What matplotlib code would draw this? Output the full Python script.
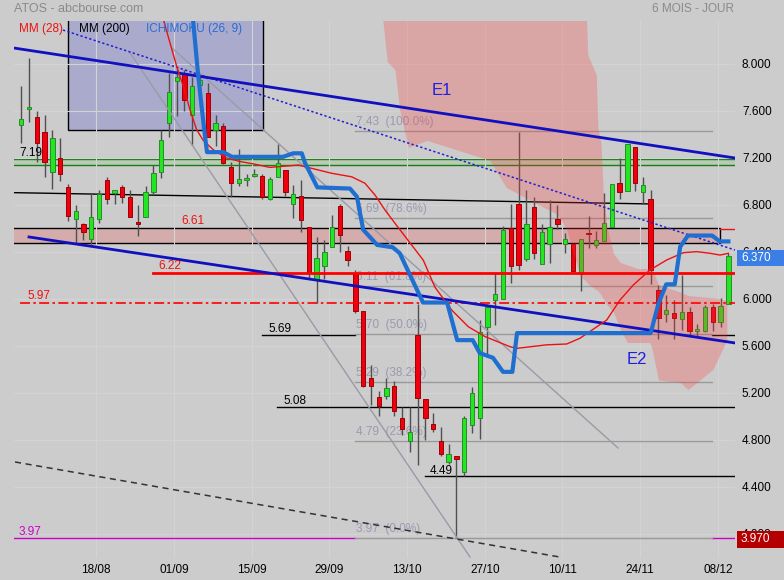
import matplotlib
matplotlib.use('Agg')
import matplotlib.pyplot as plt
from matplotlib.patches import Rectangle
import numpy as np

plt.rcParams['font.family'] = ['Liberation Sans', 'DejaVu Sans']

# ---------------- data ----------------
opens = [7.48, 7.615, 7.546, 7.42, 7.08, 7.197, 6.95, 6.68, 6.636, 6.51,
         6.68, 7.01, 6.90, 6.95, 6.87, 6.655, 6.70, 6.91, 7.08, 7.495,
         7.858, 7.92, 7.57, 7.82, 7.75, 7.44, 7.47, 7.12, 6.985, 7.01,
         7.045, 7.05, 6.85, 7.04, 7.10, 6.81, 6.88, 6.61, 6.17, 6.28,
         6.445, 6.79, 6.41, 6.21, 5.90, 5.33, 5.17, 5.175, 5.26, 4.99,
         4.79, 5.69, 5.145, 4.94, 4.79, 4.61, 4.66, 4.53, 4.93, 4.99,
         5.76, 5.99, 6.00, 6.60, 6.81, 6.34, 6.78, 6.295, 6.47, 6.68,
         6.47, 6.47, 6.21, 6.56, 6.46, 6.49, 6.615, 6.99, 6.92, 7.29,
         6.91, 6.85, 6.08, 5.87, 5.88, 5.83, 5.89, 5.73, 5.73, 5.93,
         5.80, 5.96]
highs = [7.81, 8.05, 7.60, 7.57, 7.44, 7.37, 6.98, 6.80, 6.65, 6.90,
         6.93, 7.04, 6.93, 6.97, 6.93, 6.80, 6.96, 7.14, 7.44, 7.92,
         7.96, 7.95, 7.89, 7.90, 7.84, 7.57, 7.50, 7.17, 7.28, 7.06,
         7.11, 7.06, 7.04, 7.32, 7.10, 6.97, 7.01, 6.61, 6.53, 6.50,
         6.715, 6.81, 6.45, 6.25, 5.90, 5.44, 5.22, 5.33, 5.30, 5.08,
         5.08, 5.96, 5.145, 5.03, 4.91, 4.77, 4.66, 5.00, 5.25, 5.82,
         5.96, 6.22, 6.62, 6.81, 7.42, 6.93, 6.87, 6.64, 6.84, 6.80,
         6.56, 6.47, 6.51, 6.71, 6.58, 6.90, 6.975, 7.20, 7.32, 7.29,
         7.04, 6.93, 6.12, 6.03, 5.99, 6.20, 5.93, 5.79, 5.95, 5.96,
         6.01, 6.39]
lows = [7.33, 7.51, 7.17, 7.04, 6.94, 7.00, 6.66, 6.48, 6.50, 6.47,
        6.65, 6.81, 6.81, 6.82, 6.70, 6.54, 6.70, 6.89, 7.03, 7.38,
        7.56, 7.60, 7.31, 7.78, 7.38, 7.30, 7.15, 6.87, 6.96, 6.96,
        7.04, 6.85, 6.84, 7.04, 6.88, 6.69, 6.57, 6.18, 5.97, 6.17,
        6.445, 6.40, 6.28, 5.88, 5.25, 5.10, 5.00, 5.15, 5.00, 4.84,
        4.70, 4.59, 4.80, 4.87, 4.66, 4.60, 3.97, 4.49, 4.86, 4.81,
        5.51, 5.78, 6.00, 6.14, 6.25, 6.32, 6.34, 6.295, 6.31, 6.60,
        6.39, 6.22, 6.07, 6.43, 6.43, 6.49, 6.615, 6.85, 6.92, 6.92,
        6.81, 6.13, 5.66, 5.80, 5.66, 5.74, 5.69, 5.685, 5.72, 5.73,
        5.76, 5.96]
closes = [7.53, 7.63, 7.325, 7.163, 7.37, 7.06, 6.71, 6.75, 6.573, 6.70,
          6.89, 6.85, 6.93, 6.87, 6.70, 6.64, 6.91, 7.07, 7.35, 7.76,
          7.887, 7.69, 7.81, 7.86, 7.38, 7.50, 7.16, 6.99, 7.02, 7.03,
          7.05, 6.87, 7.02, 7.16, 6.91, 6.89, 6.67, 6.22, 6.35, 6.40,
          6.61, 6.545, 6.33, 5.90, 5.26, 5.26, 5.09, 5.245, 5.05, 4.89,
          4.87, 5.155, 4.99, 4.89, 4.68, 4.68, 4.635, 4.99, 5.20, 5.72,
          5.93, 6.04, 6.59, 6.28, 6.29, 6.64, 6.39, 6.57, 6.61, 6.635,
          6.51, 6.24, 6.51, 6.55, 6.50, 6.65, 6.975, 6.91, 7.32, 6.99,
          6.97, 6.25, 5.84, 5.91, 5.84, 5.89, 5.73, 5.74, 5.93, 5.80,
          5.94, 6.37]

date_labels = ['18/08', '01/09', '15/09', '29/09', '13/10', '27/10', '10/11', '24/11', '08/12']
date_idx = [10, 20, 30, 40, 50, 60, 70, 80, 90]
price_ticks = [4.0, 4.4, 4.8, 5.2, 5.6, 6.0, 6.4, 6.8, 7.2, 7.6, 8.0]

mm28_idx = [18.2, 19.05, 20.0, 20.85, 21.71, 22.57, 23.42, 24.71, 26.43, 28.15,
            29.86, 32.0, 35.65, 39.95, 42.52, 44.23, 45.52, 46.81, 48.1, 51.74,
            53.24, 55.39, 57.53, 59.68, 62.9, 63.76, 67.62, 70.19, 71.9, 75.34,
            77.05, 78.76, 80.91, 83.06, 85.2, 86.92, 88.64, 89.92, 91.0]
mm28_val = [8.40, 8.20, 7.98, 7.81, 7.61, 7.44, 7.35, 7.27, 7.20, 7.17,
            7.15, 7.12, 7.14, 7.07, 7.04, 6.985, 6.885, 6.757, 6.644, 6.33,
            6.10, 5.906, 5.764, 5.68, 5.594, 5.58, 5.61, 5.617, 5.666, 5.821,
            5.991, 6.119, 6.247, 6.332, 6.394, 6.403, 6.389, 6.374, 6.389]

ichi_idx = [22.0, 22.74, 23.2, 23.65, 23.9, 26.0, 27.1, 33.7, 35.0, 36.1,
            36.5, 38.1, 42.3, 43.2, 44.0, 45.8, 47.8, 48.7, 51.7, 54.8,
            56.1, 58.1, 59.0, 60.7, 62.0, 63.2, 63.8, 81.0, 82.0, 83.0,
            84.1, 84.8, 85.8, 88.9, 89.9, 91.0]
ichi_val = [8.45, 7.92, 7.64, 7.38, 7.25, 7.25, 7.21, 7.21, 7.24, 7.24,
            7.16, 6.95, 6.94, 6.87, 6.59, 6.46, 6.44, 6.39, 5.97, 5.97,
            5.65, 5.65, 5.54, 5.50, 5.38, 5.38, 5.71, 5.71, 5.96, 6.125,
            6.125, 6.445, 6.54, 6.54, 6.49, 6.49]

cloud_idx = [46.4, 47.1, 48.1, 48.7, 49.8, 52.2, 60.3, 62.4, 65.5, 69.0,
             70.2, 71.9, 72.7, 72.9, 74.0, 74.2, 74.6, 74.9, 75.4, 76.2,
             77.1, 78.0, 79.3, 80.9, 81.2, 82.0, 84.8, 85.8, 89.0, 90.8]
cloud_top = [8.45, 8.45, 8.45, 8.45, 8.45, 8.45, 8.45, 8.45, 8.45, 8.45,
             8.45, 8.45, 8.45, 8.08, 7.91, 7.46, 7.33, 6.90, 6.61, 6.39,
             6.31, 6.29, 6.26, 6.26, 6.26, 6.12, 6.06, 6.03, 6.01, 5.99]
cloud_bot = [8.45, 8.02, 7.95, 7.61, 7.29, 7.35, 7.18, 6.95, 6.84, 6.72,
             6.59, 6.20, 6.15, 6.13, 6.08, 6.07, 6.04, 6.00, 5.95, 5.89,
             5.74, 5.63, 5.63, 5.63, 5.57, 5.31, 5.29, 5.23, 5.40, 5.65]

fib_levels = [7.43, 6.69, 6.11, 5.70, 5.29, 4.79, 3.97]
fib_pct = ['100.0%', '78.6%', '61.8%', '50.0%', '38.2%', '23.6%', '0.0%']

# trend lines (index, price) endpoints
e1_line = ([-0.94, 91.85], [8.136, 7.20])
e2_line = ([0.99, 91.85], [6.528, 5.626])
dotted_line = ([5.37, 91.85], [8.289, 6.417])
gray_line_a = ([14.0, 57.75], [8.094, 3.804])
gray_line_b = ([19.4, 76.8], [8.136, 4.732])
dashed_line = ([-0.81, 69.3], [4.613, 3.804])
mm200_line = ([-0.94, 80.9], [6.905, 6.809])

last_price = 6.37
low_price = 3.97

# ---------------- layout helpers ----------------
W, H = 784, 580
AX_L, AX_R, AX_T, AX_B = 14, 735, 21, 558
X0_PX, DX_PX = 21.3, 7.77
Y8_PX, PPU = 64.0, 117.5


def px_x(px):
    return (px - X0_PX) / DX_PX


def px_y(py):
    return 8 - (py - Y8_PX) / PPU


BG = '#cccccc'
fig = plt.figure(figsize=(W / 100, H / 100), dpi=100, facecolor=BG)
ax = fig.add_axes([AX_L / W, 1 - AX_B / H, (AX_R - AX_L) / W, (AX_B - AX_T) / H])
ax.set_facecolor(BG)
XL, XR = px_x(AX_L), px_x(AX_R)
ax.set_xlim(XL, XR)
ax.set_ylim(px_y(AX_B), px_y(AX_T))
for s in ax.spines.values():
    s.set_visible(False)


def ftext(px, py, s, **kw):
    kw.setdefault('va', 'center')
    kw.setdefault('fontsize', 8.5)
    fig.text(px / W, 1 - py / H, s, **kw)


# blue box
ax.add_patch(Rectangle((6.0, 7.44), 25.1, 1.2, facecolor='#aaaacc', edgecolor='black', lw=1.0, zorder=1))
# green band
ax.add_patch(Rectangle((XL - 1, 7.14), XR - XL + 2, 0.05, facecolor='#b8ccb4', edgecolor='#1a7a1a', lw=1.0, zorder=1))
# pink band
ax.add_patch(Rectangle((XL - 1, 6.48), px_x(720) - XL + 1, 0.12, facecolor='#d4acac', edgecolor='black', lw=1.0, zorder=1))
ax.plot([px_x(720), XR], [6.60, 6.60], color='#ee1111', lw=1, zorder=2)

# grid
for p in price_ticks:
    ax.axhline(p, color='#d3d3d3', lw=0.8, zorder=1.5)
for d in date_idx:
    ax.axvline(d - 0.35, color='#d3d3d3', lw=0.8, zorder=1.5)

# level lines
ax.plot([px_x(153), XR], [6.22, 6.22], color='#ff0000', lw=2, zorder=5)
ax.plot([px_x(20), XR], [5.97, 5.97], color='#ff0000', lw=1.2, dashes=[6, 2, 1.5, 2], zorder=5)
ax.plot([px_x(262), px_x(355)], [5.69, 5.69], color='black', lw=1, zorder=2)
ax.plot([px_x(712), XR], [5.69, 5.69], color='black', lw=1, zorder=2)
ax.plot([px_x(277), XR], [5.08, 5.08], color='black', lw=1, zorder=2)
ax.plot([px_x(425), XR], [4.49, 4.49], color='black', lw=1, zorder=2)
ax.plot([XL, px_x(355)], [3.965, 3.965], color='#cc00cc', lw=1, zorder=2)
ax.plot([px_x(712), XR], [3.965, 3.965], color='#cc00cc', lw=1, zorder=2)
for lv, pc in zip(fib_levels, fib_pct):
    ax.plot([px_x(355), px_x(712)], [lv, lv], color='#999999', lw=1, zorder=2)
    ax.text(px_x(356), lv + 0.025, f'{lv:.2f}  ({pc})', color='#9a9ab2', fontsize=8.5,
            ha='left', va='bottom', zorder=2)

# black MM200-like line
ax.plot(*mm200_line, color='black', lw=1, zorder=2)

# candles
UP, DN = '#22e622', '#ee0010'
for i, (o, h, l, c) in enumerate(zip(opens, highs, lows, closes)):
    up = c >= o
    ax.plot([i, i], [l, h], color='#505050', lw=1, zorder=3, solid_capstyle='butt')
    lo, hi = min(o, c), max(o, c)
    hgt = max(hi - lo, 0.015)
    ax.add_patch(Rectangle((i - 0.28, lo), 0.56, hgt, facecolor=UP if up else DN,
                           edgecolor='#2a8a2a' if up else '#a00000', lw=0.7, zorder=3.2))

# ichimoku cloud (over candles)
ax.fill_between(cloud_idx, cloud_bot, cloud_top, color=(1.0, 0.22, 0.22), alpha=0.26, lw=0, zorder=4)

# trend lines
ax.plot(*gray_line_a, color='#9a9aa8', lw=1, zorder=4.5)
ax.plot(*gray_line_b, color='#9a9aa8', lw=1, zorder=4.5)
ax.plot(*dashed_line, color='#333333', lw=1.1, dashes=[4, 3], zorder=4.5)
ax.plot(*dotted_line, color='#2020d0', lw=1.1, dashes=[1.5, 1.5], zorder=4.5)
ax.plot(*e1_line, color='#1010c0', lw=2, zorder=5)
ax.plot(*e2_line, color='#1010c0', lw=2, zorder=5)

# moving average and ichimoku line
ax.plot(mm28_idx, mm28_val, color='#ee1111', lw=1, zorder=5.5)
ax.plot(ichi_idx, ichi_val, color='#1e6fd0', lw=3, zorder=6, solid_joinstyle='round')

ax.text(px_x(442), px_y(91), 'E1', color='#1f1fe0', fontsize=12, ha='center', va='center', zorder=7)
ax.text(px_x(637), px_y(360), 'E2', color='#1f1fe0', fontsize=12, ha='center', va='center', zorder=7)

# axis ticks
ax.yaxis.tick_right()
ax.set_yticks(price_ticks)
ax.set_yticklabels([f'{p:.3f}' for p in price_ticks])
ax.tick_params(axis='y', length=0, pad=5, labelsize=8.5, colors='black')
ax.set_xticks([d - 0.35 for d in date_idx])
ax.set_xticklabels(date_labels)
ax.tick_params(axis='x', length=0, pad=4, labelsize=8.5, colors='black')

# header texts
ftext(14, 9, 'ATOS - abcbourse.com', color='#8a8a8a', fontsize=9, ha='left')
ftext(734, 9, '6 MOIS - JOUR', color='#8a8a8a', fontsize=8.5, ha='right')
ftext(19, 29, 'MM (28)', color='#ee1111', ha='left')
ftext(79, 29, 'MM (200)', color='black', ha='left')
ftext(146, 29, 'ICHIMOKU (26, 9)', color='#2a6dd2', ha='left')

# level labels
ftext(19, 153, '7.19', color='black', ha='left')
ftext(181, 221, '6.61', color='#ee1111', ha='left')
ftext(158, 266, '6.22', color='#ee1111', ha='left')
ftext(27, 296, '5.97', color='#ee1111', ha='left')
ftext(268, 329, '5.69', color='black', ha='left')
ftext(283, 401, '5.08', color='black', ha='left')
ftext(430, 471, '4.49', color='black', ha='left')
ftext(19, 532, '3.97', color='#cc00cc', ha='left')

# price boxes on right axis
fig.patches.append(Rectangle((737 / W, 1 - 266 / H), 47 / W, 16 / H, transform=fig.transFigure,
                             facecolor='#3a7ee6', edgecolor='none', zorder=10))
ftext(741, 258, f'{last_price:.3f}', color='white', ha='left', zorder=11)
fig.patches.append(Rectangle((737 / W, 1 - 548 / H), 47 / W, 17 / H, transform=fig.transFigure,
                             facecolor='#b40000', edgecolor='none', zorder=10))
ftext(741, 539.5, f'{low_price:.3f}', color='white', ha='left', zorder=11)

fig.savefig('out.png', dpi=100, facecolor=BG)
